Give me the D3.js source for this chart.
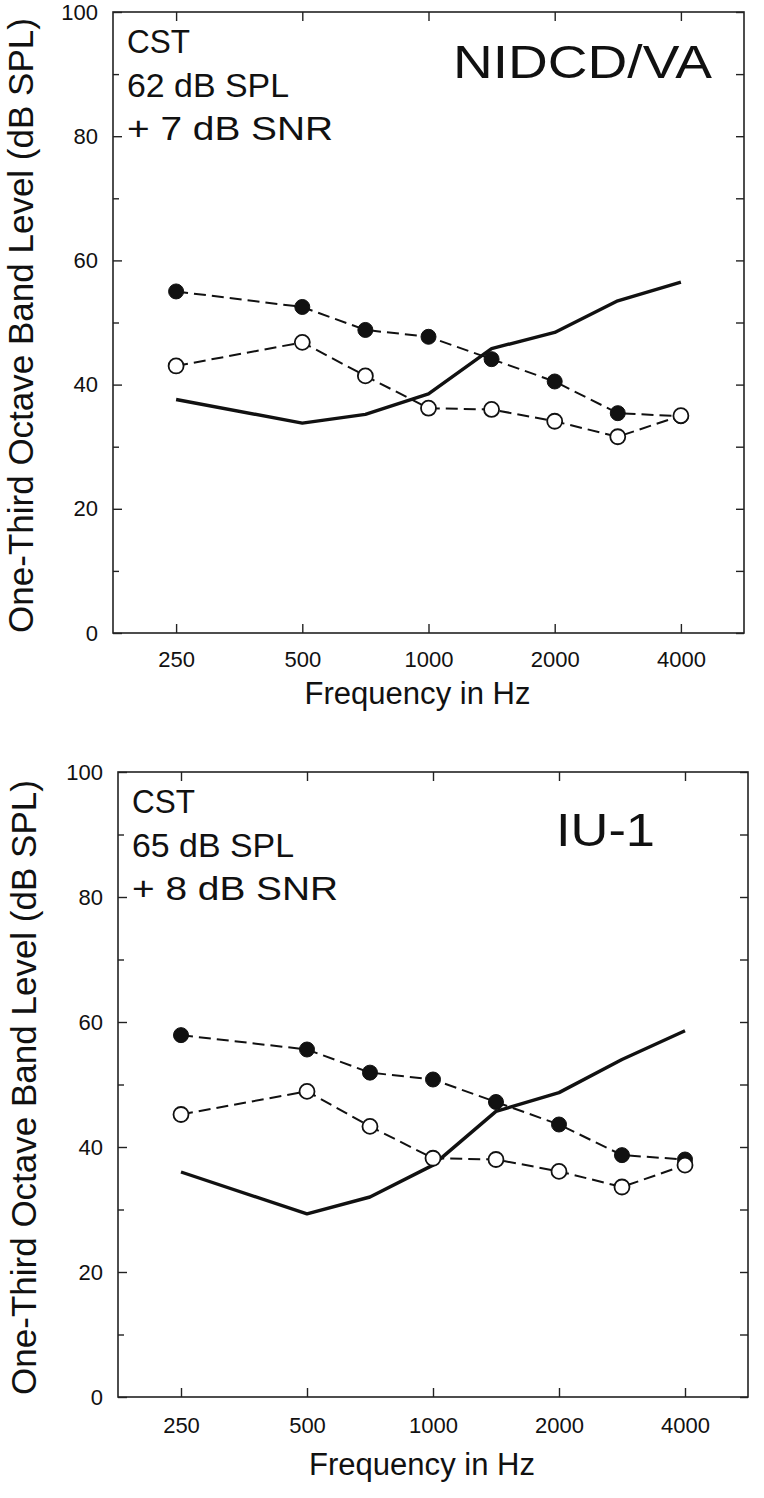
<!DOCTYPE html>
<html>
<head>
<meta charset="utf-8">
<script src="https://cdn.jsdelivr.net/npm/d3@7"></script>
<style>
  html, body { margin: 0; padding: 0; background: #fff; }
  svg { display: block; }
  text { font-family: "Liberation Sans", Arial, Helvetica, sans-serif; fill: #111; }
</style>
</head>
<body>
<svg id="chart" width="764" height="1498"></svg>
<script>
// ---- data ----
const freqs = [250, 500, 707, 1000, 1414, 2000, 2828, 4000];
const xTicks = [250, 500, 1000, 2000, 4000];
const yTicks = [0, 20, 40, 60, 80, 100];
const yMinorTicks = [10, 30, 50, 70, 90];

// Panel 1: NIDCD/VA
const nidcdFilled = [55.0, 52.5, 48.8, 47.7, 44.1, 40.5, 35.4, 34.9];
const nidcdOpen   = [43.0, 46.8, 41.4, 36.2, 36.0, 34.1, 31.6, 35.0];
const nidcdSolid  = [37.6, 33.8, 35.2, 38.5, 45.8, 48.4, 53.5, 56.5];
const nidcdNotes  = ["CST", "62 dB SPL", "+ 7 dB SNR"];
const nidcdTitle  = "NIDCD/VA";

// Panel 2: IU-1
const iuFilled = [57.9, 55.6, 51.9, 50.8, 47.2, 43.6, 38.7, 38.0];
const iuOpen   = [45.2, 48.9, 43.3, 38.2, 38.0, 36.1, 33.6, 37.1];
const iuSolid  = [36.0, 29.3, 32.0, 37.1, 45.7, 48.7, 54.0, 58.6];
const iuNotes  = ["CST", "65 dB SPL", "+ 8 dB SNR"];
const iuTitle  = "IU-1";

const xTitle = "Frequency in Hz";
const yTitle = "One-Third Octave Band Level (dB SPL)";

// ---- drawing ----
const svg = d3.select("#chart");

function drawPanel(cfg) {
  const { left, top, width, height } = cfg;
  const g = svg.append("g").attr("transform", `translate(${left},${top})`);

  const x = d3.scaleLog().domain([250 / Math.SQRT2, 4000 * Math.SQRT2]).range([0, width]);
  const y = d3.scaleLinear().domain([0, 100]).range([height, 0]);

  // frame
  g.append("rect").attr("x", 0).attr("y", 0).attr("width", width).attr("height", height)
    .attr("fill", "none").attr("stroke", "#222").attr("stroke-width", 1.6);

  // axes with inward ticks
  const tickFmt = d => String(d);
  const xB = d3.axisBottom(x).tickValues(xTicks).tickFormat(tickFmt).tickSizeInner(-9).tickSizeOuter(0).tickPadding(cfg.xPad);
  const xT = d3.axisTop(x).tickValues(xTicks).tickFormat("").tickSizeInner(-9).tickSizeOuter(0);
  const yL = d3.axisLeft(y).tickValues(yTicks).tickFormat(tickFmt).tickSizeInner(-9).tickSizeOuter(0).tickPadding(15);
  const yLm = d3.axisLeft(y).tickValues(yMinorTicks).tickFormat("").tickSizeInner(-6).tickSizeOuter(0);
  const yR = d3.axisRight(y).tickValues(yTicks.concat(yMinorTicks)).tickFormat("").tickSizeInner(-8).tickSizeOuter(0);

  const axes = [
    g.append("g").attr("transform", `translate(0,${height})`).call(xB),
    g.append("g").call(xT),
    g.append("g").call(yL),
    g.append("g").call(yLm),
    g.append("g").attr("transform", `translate(${width},0)`).call(yR)
  ];
  axes.forEach(a => {
    a.select(".domain").remove();
    a.selectAll(".tick line").attr("stroke", "#222").attr("stroke-width", 1.4);
    a.selectAll(".tick text").attr("font-size", 22).attr("fill", "#111")
      .attr("font-family", '"Liberation Sans", Arial, sans-serif');
  });

  // solid line
  const line = d3.line().x((d, i) => x(freqs[i])).y(d => y(d));
  g.append("path").datum(cfg.solid).attr("d", line)
    .attr("fill", "none").attr("stroke", "#111").attr("stroke-width", 3.4).attr("stroke-linejoin", "round");

  // dashed lines
  [cfg.filled, cfg.open].forEach(series => {
    g.append("path").datum(series).attr("d", line)
      .attr("fill", "none").attr("stroke", "#111").attr("stroke-width", 2)
      .attr("stroke-dasharray", "12,6");
  });

  // markers
  g.selectAll(".fdot").data(cfg.filled).join("circle").attr("class", "fdot")
    .attr("cx", (d, i) => x(freqs[i])).attr("cy", d => y(d)).attr("r", 7.5)
    .attr("fill", "#111").attr("stroke", "#111").attr("stroke-width", 1);
  g.selectAll(".odot").data(cfg.open).join("circle").attr("class", "odot")
    .attr("cx", (d, i) => x(freqs[i])).attr("cy", d => y(d)).attr("r", 7.5)
    .attr("fill", "#fff").attr("stroke", "#111").attr("stroke-width", 1.8);

  // notes
  cfg.notes.forEach((t, i) => {
    g.append("text").attr("x", 14).attr("y", 41 + i * 43.5).attr("font-size", 34).text(t)
      .attr("textLength", cfg.noteLens[i]).attr("lengthAdjust", "spacingAndGlyphs");
  });
  g.append("text").attr("x", cfg.titleX).attr("y", cfg.titleY).attr("font-size", 47)
    .attr("textLength", cfg.titleLen).attr("lengthAdjust", "spacingAndGlyphs").text(cfg.title);

  // axis titles
  g.append("text").attr("x", width / 2 - 11).attr("y", height + cfg.xTitleDy).attr("text-anchor", "middle")
    .attr("font-size", 31).attr("textLength", 226).attr("lengthAdjust", "spacingAndGlyphs").text(xTitle);
  g.append("text").attr("transform", `translate(${cfg.yTitleX - left},${height / 2 + 3}) rotate(-90)`)
    .attr("text-anchor", "middle").attr("font-size", 35).text(yTitle);
}

drawPanel({
  left: 113, top: 12, width: 631, height: 621,
  filled: nidcdFilled, open: nidcdOpen, solid: nidcdSolid,
  notes: nidcdNotes, noteLens: [63, 162, 206], title: nidcdTitle,
  titleX: 340, titleY: 66, titleLen: 259, yTitleX: 33, xPad: 18, xTitleDy: 71
});
drawPanel({
  left: 118, top: 772, width: 630, height: 625,
  filled: iuFilled, open: iuOpen, solid: iuSolid,
  notes: iuNotes, noteLens: [63, 162, 206], title: iuTitle,
  titleX: 438, titleY: 74, titleLen: 99, yTitleX: 36, xPad: 20, xTitleDy: 78
});
</script>
</body>
</html>
